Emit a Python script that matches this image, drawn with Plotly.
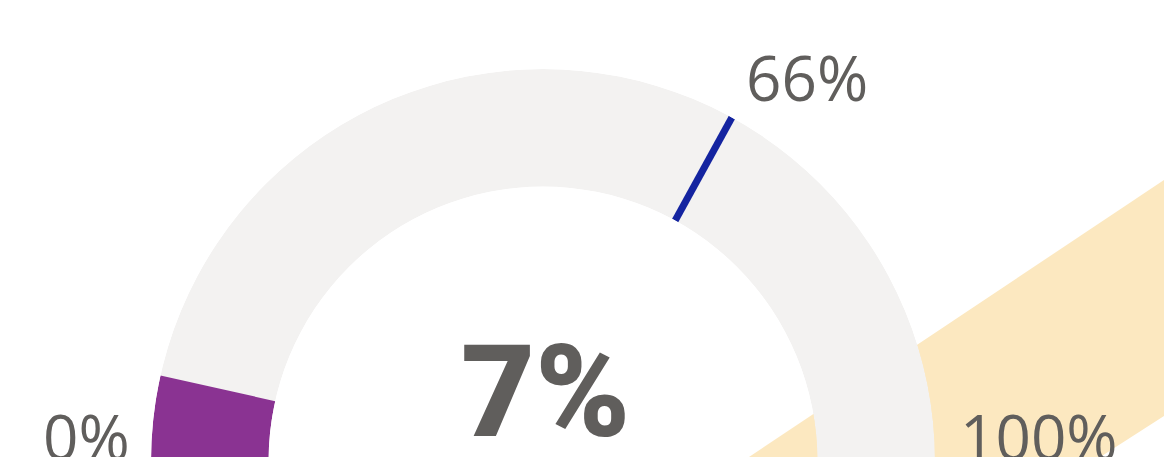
import plotly.graph_objects as go

# ---- data ----
axis_min = 0
axis_max = 100
value = 7
target = 66
min_label = "0%"
max_label = "100%"
target_label = "66%"
value_label = "7%"

# ---- style ----
W, H = 1164, 461
TEXT = "#605E5C"
TRACK = "#F3F2F1"
PURPLE = "#8A3392"
BLUE = "#1424A0"

deg = 180.0 / (axis_max - axis_min)


def px(x):
    return x / W


def py(y):
    return 1 - y / H


fig = go.Figure()
fig.add_trace(go.Barpolar(
    r=[1], theta=[(axis_max - axis_min) * deg / 2], width=[(axis_max - axis_min) * deg],
    base=0, marker=dict(color=TRACK, line=dict(width=0)), hoverinfo="skip"))
fig.add_trace(go.Barpolar(
    r=[1], theta=[(value - axis_min) * deg / 2], width=[(value - axis_min) * deg],
    base=0, marker=dict(color=PURPLE, line=dict(width=0)), hoverinfo="skip"))
fig.add_trace(go.Scatterpolar(
    r=[0, 1], theta=[(target - axis_min) * deg] * 2, mode="lines",
    line=dict(color=BLUE, width=7), hoverinfo="skip"))

cx, R = 543, 392
fig.update_layout(
    width=W, height=H,
    margin=dict(l=0, r=0, t=0, b=0),
    paper_bgcolor="white",
    showlegend=False,
    polar=dict(
        domain=dict(x=[px(cx - R), px(cx + R)], y=[0, R / H]),
        sector=[0, 180],
        hole=0.7,
        bgcolor="rgba(0,0,0,0)",
        angularaxis=dict(visible=False, rotation=180, direction="clockwise"),
        radialaxis=dict(visible=False, range=[0, 1]),
    ),
    shapes=[
        dict(type="path", xref="paper", yref="paper", layer="below",
             path=f"M {px(743)} {py(461)} L {px(1164)} {py(180)} L {px(1164)} {py(416)} L {px(1094)} {py(461)} Z",
             fillcolor="#FCE8C0", line=dict(width=0)),
    ],
    annotations=[
        dict(text=value_label, x=px(545), y=py(392), xref="paper", yref="paper",
             xanchor="center", yanchor="middle", showarrow=False,
             font=dict(family="Roboto", size=128, color=TEXT, weight=900)),
        dict(text=target_label, x=px(744), y=py(77), xref="paper", yref="paper",
             xanchor="left", yanchor="middle", showarrow=False,
             font=dict(family="Open Sans", size=62, color=TEXT)),
        dict(text=min_label, x=px(132), y=py(436), xref="paper", yref="paper",
             xanchor="right", yanchor="middle", showarrow=False,
             font=dict(family="Open Sans", size=62, color=TEXT)),
        dict(text=max_label, x=px(958), y=py(436), xref="paper", yref="paper",
             xanchor="left", yanchor="middle", showarrow=False,
             font=dict(family="Open Sans", size=62, color=TEXT)),
    ],
)

fig.write_html("out.html", config={"displayModeBar": False},
               post_script="document.body.style.margin='0';document.body.style.overflow='hidden';")
